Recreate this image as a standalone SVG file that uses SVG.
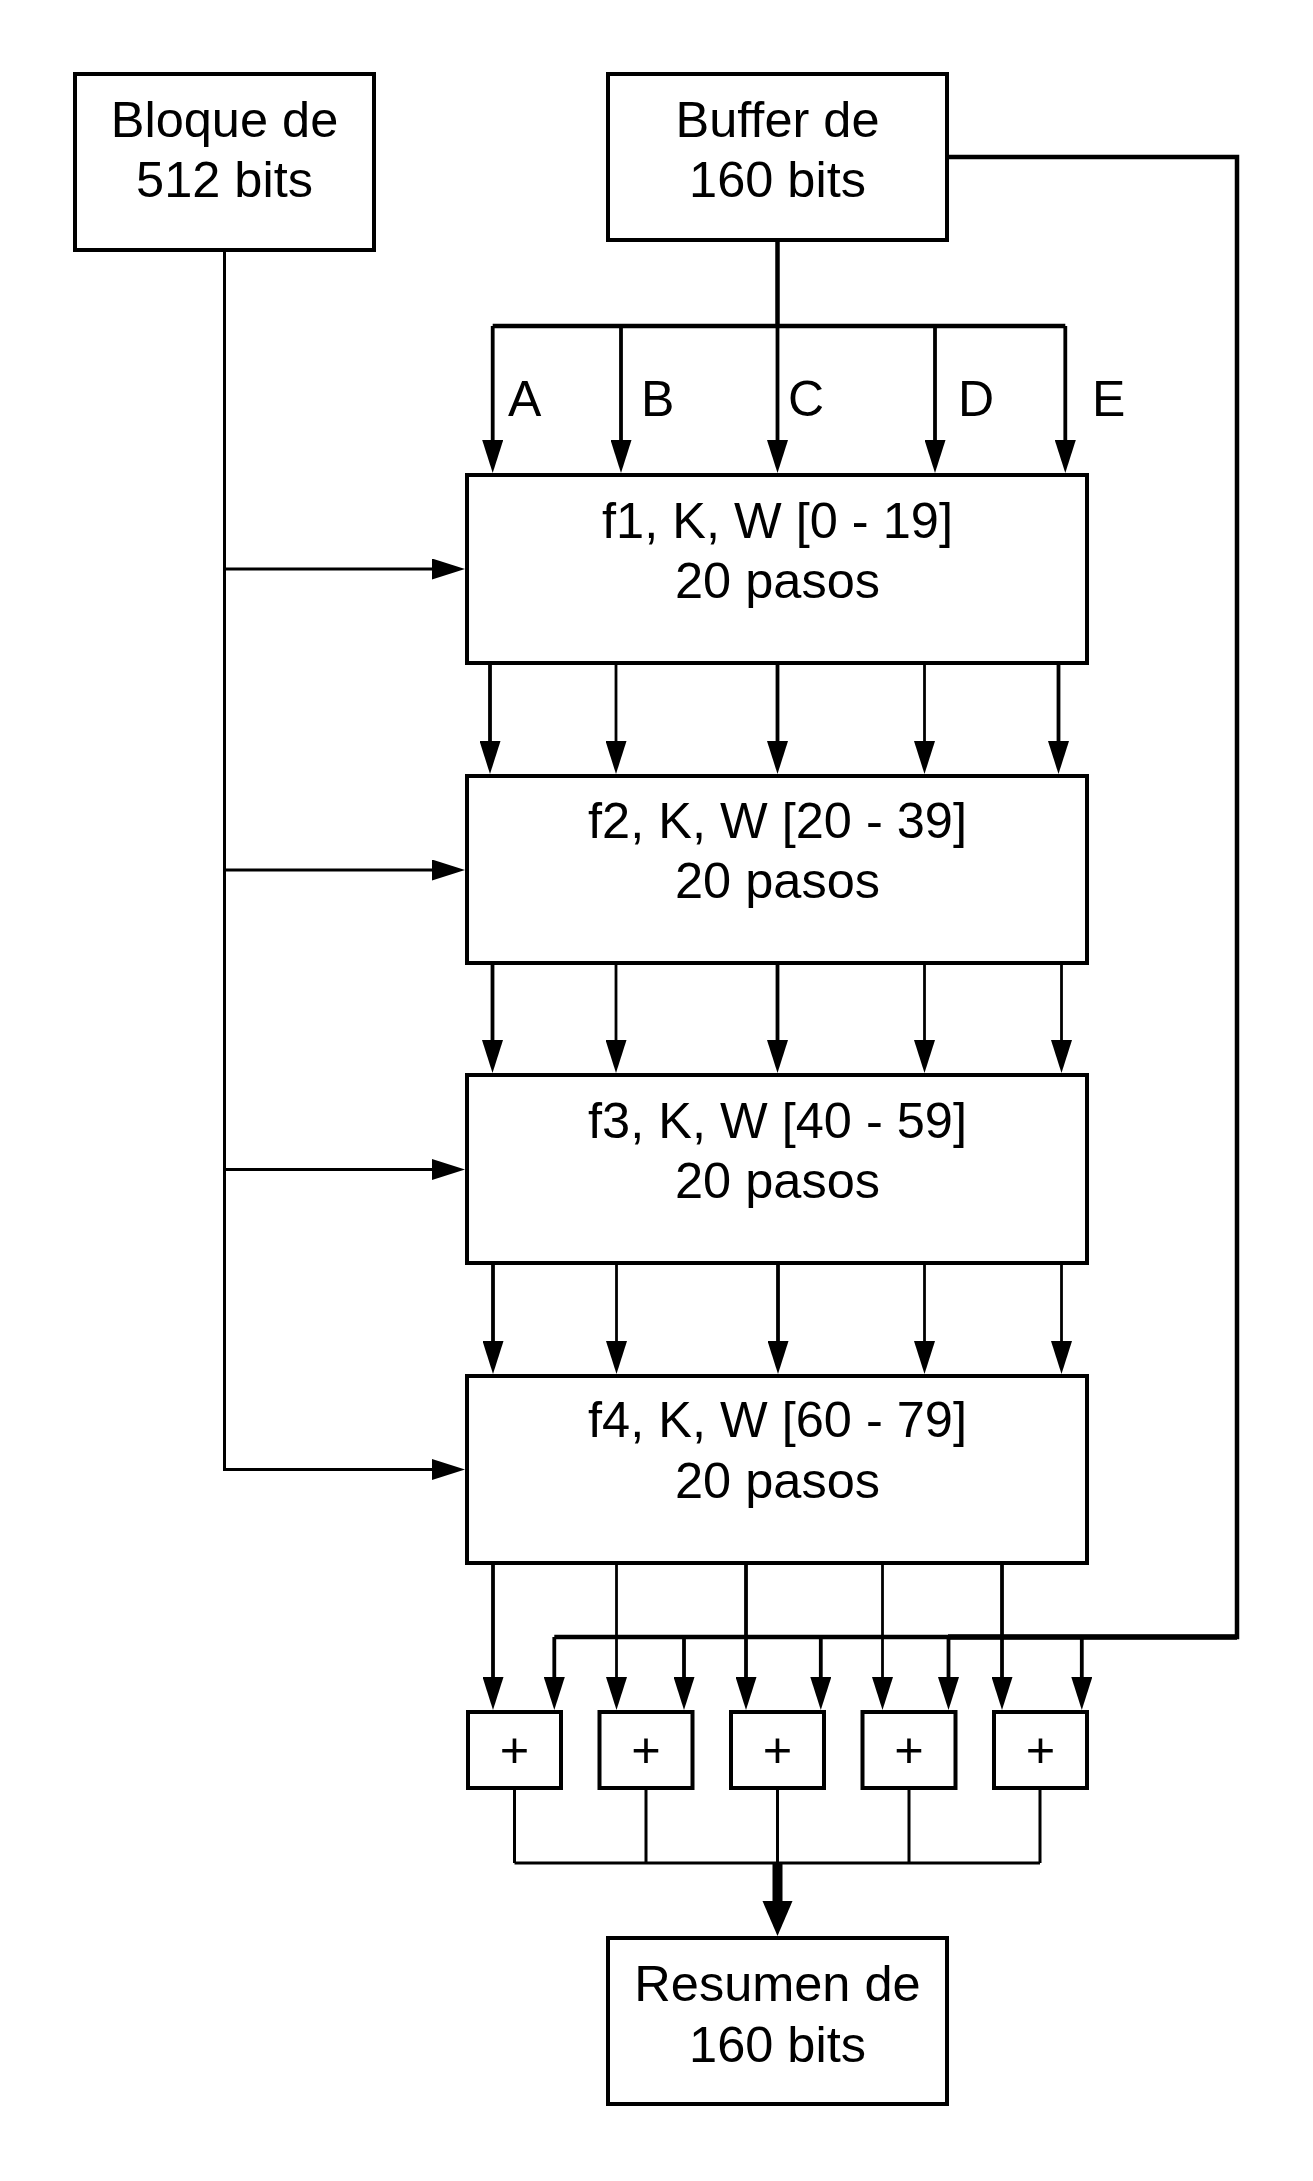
<svg xmlns="http://www.w3.org/2000/svg" width="1313" height="2181" viewBox="0 0 1313 2181">
<style>
.box{fill:#fff;stroke:#000;stroke-width:4}
.t{font-family:"Liberation Sans",Arial,sans-serif;font-size:50.5px;fill:#000;text-anchor:middle}
.lbl{font-family:"Liberation Sans",Arial,sans-serif;font-size:50px;fill:#000}
.ln{fill:none;stroke:#000;stroke-width:3}
.tk{fill:none;stroke:#000;stroke-width:3.8}
.tn{fill:none;stroke:#000;stroke-width:2.8}
.bus{fill:none;stroke:#000;stroke-width:4.5}
.arr{marker-end:url(#ah)}
</style>
<defs>
<marker id="ah" viewBox="0 0 33 21" refX="13" refY="10.5" markerWidth="33" markerHeight="21" markerUnits="userSpaceOnUse" orient="auto"><path d="M0,0 L33,10.5 L0,21 Z" fill="#000"/></marker>
</defs>
<rect width="1313" height="2181" fill="#fff"/>
<g id="connectors">
<path class="ln" d="M224.5,250 V1469.5 H445" marker-end="url(#ah)"/>
<path class="ln arr" d="M224.5,569 H445"/>
<path class="ln arr" d="M224.5,870 H445"/>
<path class="ln arr" d="M224.5,1169.5 H445"/>
<path class="bus" d="M777.5,240 V326"/>
<path class="bus" d="M492.7,326 H1065.3"/>
<path class="tk arr" d="M492.7,326 V453"/>
<path class="tk arr" d="M621,326 V453"/>
<path class="tk arr" d="M777.5,326 V453"/>
<path class="tk arr" d="M935,326 V453"/>
<path class="tk arr" d="M1065.3,326 V453"/>
<path class="tk arr" d="M490,663 V754"/>
<path class="tn arr" d="M616,663 V754"/>
<path class="tk arr" d="M777.5,663 V754"/>
<path class="tn arr" d="M924.5,663 V754"/>
<path class="tk arr" d="M1058.5,663 V754"/>
<path class="tk arr" d="M492.5,963 V1053"/>
<path class="tn arr" d="M616,963 V1053"/>
<path class="tk arr" d="M777.5,963 V1053"/>
<path class="tn arr" d="M924.5,963 V1053"/>
<path class="tn arr" d="M1061.5,963 V1053"/>
<path class="tk arr" d="M493,1263 V1354"/>
<path class="tn arr" d="M616.5,1263 V1354"/>
<path class="tk arr" d="M778,1263 V1354"/>
<path class="tn arr" d="M924.5,1263 V1354"/>
<path class="tn arr" d="M1061.5,1263 V1354"/>
<path class="tk arr" d="M493,1563 V1690"/>
<path class="tn arr" d="M616.5,1563 V1690"/>
<path class="tk arr" d="M746,1563 V1690"/>
<path class="tn arr" d="M882.5,1563 V1690"/>
<path class="tk arr" d="M1002,1563 V1690"/>
<path class="bus" d="M947,157 H1237 V1637 H554.3"/>
<path fill="none" stroke="#000" stroke-width="5.5" d="M948,1637 H1237"/>
<path class="tk arr" d="M554.3,1637 V1690"/>
<path class="tk arr" d="M684,1637 V1690"/>
<path class="tk arr" d="M820.8,1637 V1690"/>
<path class="tk arr" d="M948.5,1637 V1690"/>
<path class="tk arr" d="M1081.8,1637 V1690"/>
<path class="ln" d="M514.5,1788 V1863 M646,1788 V1863 M777.5,1788 V1863 M909,1788 V1863 M1040,1788 V1863"/>
<path class="ln" d="M514.5,1863 H1040"/>
<rect x="772.5" y="1862" width="10" height="41" fill="#000"/>
<polygon points="762.5,1901 792.5,1901 777.5,1936" fill="#000"/>
</g>
<g id="bloque">
<rect class="box" x="75" y="74" width="299" height="176"/>
<text class="t" x="224.5" y="137">Bloque de</text>
<text class="t" x="224.5" y="197">512 bits</text>
</g>
<g id="buffer">
<rect class="box" x="608" y="74" width="339" height="166"/>
<text class="t" x="777.5" y="137">Buffer de</text>
<text class="t" x="777.5" y="197">160 bits</text>
</g>
<g id="labels">
<text class="lbl" x="508" y="416">A</text>
<text class="lbl" x="641" y="416">B</text>
<text class="lbl" x="788" y="416">C</text>
<text class="lbl" x="958" y="416">D</text>
<text class="lbl" x="1092" y="416">E</text>
</g>
<g id="f1">
<rect class="box" x="467" y="475" width="620" height="188"/>
<text class="t" x="777.5" y="538">f1, K, W [0 - 19]</text>
<text class="t" x="777.5" y="598">20 pasos</text>
</g>
<g id="f2">
<rect class="box" x="467" y="776" width="620" height="187"/>
<text class="t" x="777.5" y="838">f2, K, W [20 - 39]</text>
<text class="t" x="777.5" y="898">20 pasos</text>
</g>
<g id="f3">
<rect class="box" x="467" y="1075" width="620" height="188"/>
<text class="t" x="777.5" y="1138">f3, K, W [40 - 59]</text>
<text class="t" x="777.5" y="1198">20 pasos</text>
</g>
<g id="f4">
<rect class="box" x="467" y="1376" width="620" height="187"/>
<text class="t" x="777.5" y="1437">f4, K, W [60 - 79]</text>
<text class="t" x="777.5" y="1498">20 pasos</text>
</g>
<g id="add1"><rect class="box" x="468" y="1712" width="93" height="76"/><text class="t" x="514.5" y="1767">+</text></g>
<g id="add2"><rect class="box" x="599.5" y="1712" width="93" height="76"/><text class="t" x="646" y="1767">+</text></g>
<g id="add3"><rect class="box" x="731" y="1712" width="93" height="76"/><text class="t" x="777.5" y="1767">+</text></g>
<g id="add4"><rect class="box" x="862.5" y="1712" width="93" height="76"/><text class="t" x="909" y="1767">+</text></g>
<g id="add5"><rect class="box" x="994" y="1712" width="93" height="76"/><text class="t" x="1040.5" y="1767">+</text></g>
<g id="resumen">
<rect class="box" x="608" y="1938" width="339" height="166"/>
<text class="t" x="777.5" y="2001">Resumen de</text>
<text class="t" x="777.5" y="2062">160 bits</text>
</g>
</svg>
